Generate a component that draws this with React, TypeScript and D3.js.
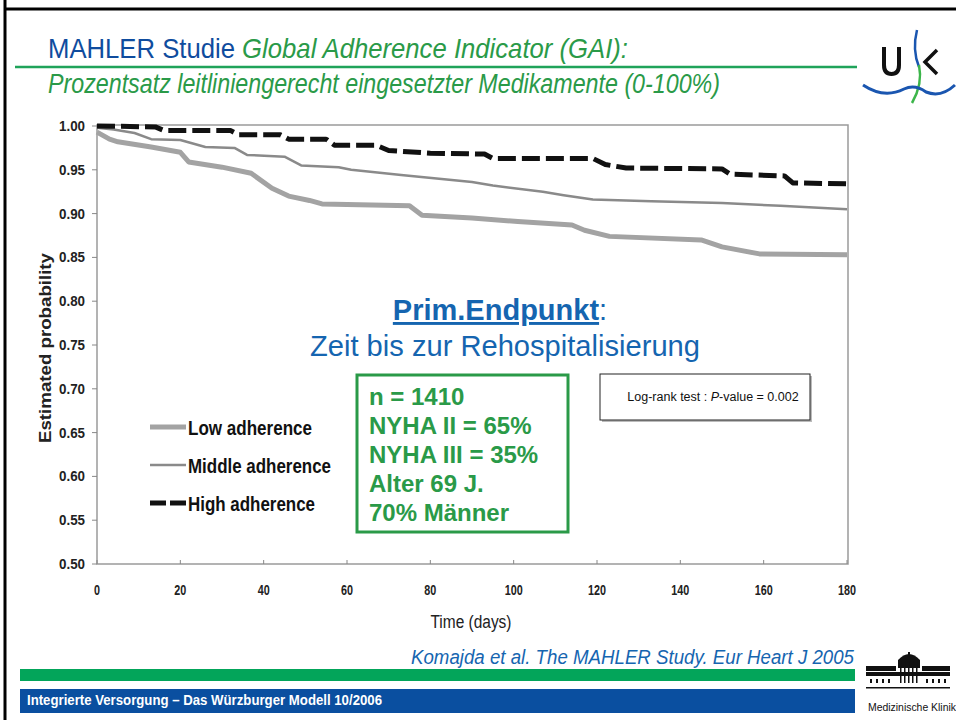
import React from "react";
import * as d3 from "d3";

const xTicks = [0, 20, 40, 60, 80, 100, 120, 140, 160, 180];
const yTicks = [0.5, 0.55, 0.6, 0.65, 0.7, 0.75, 0.8, 0.85, 0.9, 0.95, 1.0];

const lowDays = [0, 3, 5, 13, 20, 22, 30, 37, 42, 46, 51, 54, 75, 78, 90, 101, 114, 117, 123, 145, 150, 159, 180];
const lowVals = [0.993, 0.985, 0.982, 0.976, 0.97, 0.959, 0.953, 0.946, 0.929, 0.92, 0.915, 0.911, 0.909, 0.898, 0.895, 0.891, 0.887, 0.881, 0.874, 0.87, 0.862, 0.854, 0.853];

const midDays = [0, 4, 9, 13, 20, 26, 33, 36, 45, 49, 58, 61, 73, 90, 95, 107, 112, 119, 133, 150, 164, 180];
const midVals = [0.998, 0.996, 0.992, 0.985, 0.984, 0.976, 0.975, 0.967, 0.965, 0.955, 0.953, 0.95, 0.944, 0.936, 0.932, 0.925, 0.921, 0.916, 0.914, 0.912, 0.909, 0.905];

const highDays = [0, 14, 16, 32, 34, 44, 46, 55, 57, 67, 70, 80, 93, 95, 119, 122, 127, 150, 152, 165, 167, 180];
const highVals = [1.0, 0.999, 0.995, 0.995, 0.99, 0.99, 0.985, 0.985, 0.978, 0.978, 0.972, 0.969, 0.968, 0.963, 0.963, 0.956, 0.952, 0.951, 0.945, 0.943, 0.935, 0.934];

const seriesNames = ["Low adherence", "Middle adherence", "High adherence"];
const infoLines = ["n = 1410", "NYHA II = 65%", "NYHA III = 35%", "Alter 69 J.", "70% Männer"];

const SANS = "'Liberation Sans', Arial, sans-serif";
const GREEN = "#2a9a48";
const BLUE_T = "#1565b0";

export default function App() {
  const x = d3.scaleLinear().domain([0, 180]).range([97, 847]);
  const y = d3.scaleLinear().domain([0.5, 1]).range([564, 126]);
  const line = d3
    .line<[number, number]>()
    .x((d) => x(d[0]))
    .y((d) => y(d[1]))
    .curve(d3.curveLinear);
  const pts = (ds: number[], vs: number[]) => ds.map((d, i) => [d, vs[i]] as [number, number]);

  const series = [
    { name: seriesNames[0], d: line(pts(lowDays, lowVals)), color: "#a3a3a3", w: 5, dash: undefined, tl: 124 },
    { name: seriesNames[1], d: line(pts(midDays, midVals)), color: "#8a8a8a", w: 2.5, dash: undefined, tl: 143 },
    { name: seriesNames[2], d: line(pts(highDays, highVals)), color: "#111", w: 5, dash: "18,6", tl: 127 },
  ];

  return (
    <svg width={956} height={720} style={{ position: "absolute", left: 0, top: 0, background: "#fff" }}>
      {/* slide frame */}
      <line x1={5} y1={0} x2={5} y2={720} stroke="#000" strokeWidth={3} />
      <line x1={4} y1={9} x2={956} y2={9} stroke="#000" strokeWidth={3} />

      {/* title */}
      <text x={48} y={58} fontFamily={SANS} fontSize={28} textLength={580} lengthAdjust="spacingAndGlyphs">
        <tspan fill="#0f4c9e">MAHLER Studie </tspan>
        <tspan fill={GREEN} fontStyle="italic">Global Adherence Indicator (GAI):</tspan>
      </text>
      <line x1={15} y1={67} x2={857} y2={67} stroke="#1fa35a" strokeWidth={2.5} />
      <text x={48} y={93} fontFamily={SANS} fontSize={27} fill={GREEN} fontStyle="italic" textLength={672} lengthAdjust="spacingAndGlyphs">
        Prozentsatz leitliniengerecht eingesetzter Medikamente (0-100%)
      </text>

      {/* UK logo */}
      <g>
        <path d="M884,47 L884,65 Q884,74 891.5,74 Q899,74 899,65 L899,47" fill="none" stroke="#111" strokeWidth={4} />
        <path d="M937,50 L925,62 L937,74" fill="none" stroke="#111" strokeWidth={3.5} />
        <path d="M917,30 Q912,50 919,67" fill="none" stroke="#1a56b0" strokeWidth={2.5} />
        <path d="M919,65 Q923,84 912,103" fill="none" stroke="#3cb54a" strokeWidth={2.5} />
        <path d="M863,85 Q884,99 904,89 Q915,84 926,92 Q941,98 955,85" fill="none" stroke="#1a56b0" strokeWidth={3} />
      </g>

      {/* plot frame */}
      <rect x={97} y={125} width={751} height={439} fill="none" stroke="#9a9a9a" strokeWidth={1.5} />
      {yTicks.map((t) => (
        <g key={"y" + t}>
          <line x1={92} x2={97} y1={y(t)} y2={y(t)} stroke="#888" strokeWidth={1} />
          <text x={85} y={y(t) + 5} textAnchor="end" fontFamily={SANS} fontWeight="bold" fontSize={14} fill="#222" textLength={26} lengthAdjust="spacingAndGlyphs">
            {t.toFixed(2)}
          </text>
        </g>
      ))}
      {xTicks.map((t) => (
        <g key={"x" + t}>
          <line x1={x(t)} x2={x(t)} y1={564} y2={560} stroke="#888" strokeWidth={1} />
          <text x={x(t)} y={595} textAnchor="middle" fontFamily={SANS} fontWeight="bold" fontSize={14} fill="#222" textLength={String(t).length * 6} lengthAdjust="spacingAndGlyphs">
            {t}
          </text>
        </g>
      ))}
      <text x={471} y={628} textAnchor="middle" fontFamily={SANS} fontSize={18} fill="#222" textLength={81} lengthAdjust="spacingAndGlyphs">
        Time (days)
      </text>
      <text
        transform="translate(51,348) rotate(-90)"
        textAnchor="middle"
        fontFamily={SANS}
        fontWeight="bold"
        fontSize={17}
        fill="#222"
        textLength={190}
        lengthAdjust="spacingAndGlyphs"
      >
        Estimated probability
      </text>

      {/* curves */}
      {series.map((s) => (
        <path key={s.name} d={s.d || ""} fill="none" stroke={s.color} strokeWidth={s.w} strokeDasharray={s.dash} strokeLinejoin="round" />
      ))}

      {/* legend */}
      {series.map((s, i) => {
        const ly = [427, 465, 503][i];
        return (
          <g key={"lg" + i}>
            {s.dash ? (
              <>
                <line x1={150} x2={166} y1={ly} y2={ly} stroke={s.color} strokeWidth={s.w} />
                <line x1={170} x2={186} y1={ly} y2={ly} stroke={s.color} strokeWidth={s.w} />
              </>
            ) : (
              <line x1={150} x2={186} y1={ly} y2={ly} stroke={s.color} strokeWidth={s.w} />
            )}
            <text x={188} y={ly + 8} fontFamily={SANS} fontWeight="bold" fontSize={20} fill="#111" textLength={s.tl} lengthAdjust="spacingAndGlyphs">
              {s.name}
            </text>
          </g>
        );
      })}

      {/* center annotation */}
      <text x={500} y={320} textAnchor="middle" fontFamily={SANS} fontSize={29} fill={BLUE_T}>
        <tspan fontWeight="bold" style={{ textDecoration: "underline" }}>Prim.Endpunkt</tspan>
        <tspan>:</tspan>
      </text>
      <text x={505} y={356} textAnchor="middle" fontFamily={SANS} fontSize={29} fill={BLUE_T} textLength={390} lengthAdjust="spacingAndGlyphs">
        Zeit bis zur Rehospitalisierung
      </text>

      {/* green info box */}
      <rect x={357} y={375} width={211} height={157} fill="#fff" stroke={GREEN} strokeWidth={3} />
      {infoLines.map((t, i) => (
        <text key={t} x={369} y={405 + i * 29} fontFamily={SANS} fontWeight="bold" fontSize={24} fill={GREEN}>
          {t}
        </text>
      ))}

      {/* log-rank box */}
      <rect x={602} y={376} width={210} height={46} fill="#bbb" />
      <rect x={600} y={374} width={210} height={46} fill="#fff" stroke="#222" strokeWidth={1} />
      <text x={713} y={401} textAnchor="middle" fontFamily={SANS} fontSize={12.5} fill="#111">
        Log-rank test : <tspan fontStyle="italic">P</tspan>-value = 0.002
      </text>

      {/* footer */}
      <text x={854} y={664} textAnchor="end" fontFamily={SANS} fontStyle="italic" fontSize={20} fill={BLUE_T} textLength={443} lengthAdjust="spacingAndGlyphs">
        Komajda et al. The MAHLER Study. Eur Heart J 2005
      </text>
      <rect x={20} y={669} width={835} height={12} fill="#03a55a" />
      <rect x={20} y={689} width={835} height={24} fill="#0a4fa0" />
      <text x={27} y={705} fontFamily={SANS} fontWeight="bold" fontSize={14} fill="#fff" textLength={355} lengthAdjust="spacingAndGlyphs">
        Integrierte Versorgung – Das Würzburger Modell  10/2006
      </text>

      {/* building logo */}
      <g fill="#111">
        <rect x={866} y={672} width={84} height={4} />
        <rect x={866} y={666} width={30} height={5} />
        <rect x={922} y={666} width={28} height={5} />
        <path d="M898,668 L898,660 Q909,648 920,660 L920,668 Z" />
        <rect x={908} y={652} width={2} height={4} />
        {[870, 876, 882, 888, 926, 932, 938, 944].map((px) => (
          <rect key={px} x={px} y={679} width={2} height={4} />
        ))}
        {[900, 904, 908, 912, 916].map((px) => (
          <rect key={px} x={px} y={661} width={1.5} height={22} />
        ))}
        <rect x={866} y={687} width={84} height={1.5} />
      </g>
      <text x={868} y={711} fontFamily={SANS} fontSize={10} fill="#111" textLength={88} lengthAdjust="spacingAndGlyphs">
        Medizinische Klinik
      </text>
    </svg>
  );
}
